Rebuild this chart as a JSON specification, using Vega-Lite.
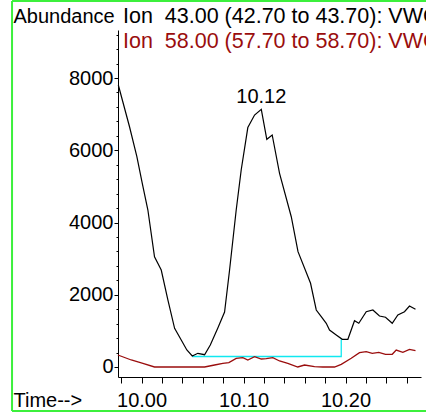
{
  "$schema": "https://vega.github.io/schema/vega-lite/v6.json",
  "width": 303,
  "height": 347,
  "autosize": {"type": "none"},
  "padding": {"left": 118, "top": 30, "right": 5, "bottom": 36},
  "background": "white",
  "config": {
    "view": {"stroke": null},
    "font": "Liberation Sans",
    "axis": {"labelFont": "Liberation Sans", "titleFont": "Liberation Sans", "domainColor": "black", "tickColor": "black", "labelColor": "black", "titleColor": "black", "grid": false}
  },
  "title": {
    "text": "Ion \u00a043.00 (42.70 to 43.70): VWC1.D\\data.ms",
    "subtitle": "Ion \u00a058.00 (57.70 to 58.70): VWC1.D\\data.ms",
    "anchor": "start",
    "frame": "group",
    "orient": "top",
    "offset": -52,
    "dx": 5,
    "font": "Liberation Sans",
    "fontSize": 21.5,
    "fontWeight": "normal",
    "color": "black",
    "subtitleFont": "Liberation Sans",
    "subtitleFontSize": 21.5,
    "subtitleColor": "#9a0d0d",
    "subtitlePadding": 3.5
  },
  "resolve": {"axis": {"x": "independent", "y": "independent"}},
  "datasets": {
    "ion43": [
      {"t": 9.9772, "v": 7806}, {"t": 9.9882, "v": 6651}, {"t": 9.9954, "v": 5821}, {"t": 10.0007, "v": 5085},
      {"t": 10.0062, "v": 4346}, {"t": 10.0127, "v": 3053}, {"t": 10.0193, "v": 2685}, {"t": 10.0258, "v": 1855},
      {"t": 10.0324, "v": 1071}, {"t": 10.0389, "v": 747}, {"t": 10.0444, "v": 470}, {"t": 10.0497, "v": 304},
      {"t": 10.0552, "v": 379}, {"t": 10.0618, "v": 340}, {"t": 10.0674, "v": 609}, {"t": 10.0748, "v": 1080},
      {"t": 10.0814, "v": 1522}, {"t": 10.0863, "v": 2685}, {"t": 10.0928, "v": 4346}, {"t": 10.0977, "v": 5453},
      {"t": 10.1042, "v": 6629}, {"t": 10.1108, "v": 6975}, {"t": 10.1174, "v": 7133}, {"t": 10.1228, "v": 6303},
      {"t": 10.1281, "v": 6422}, {"t": 10.1353, "v": 5362}, {"t": 10.1468, "v": 4160}, {"t": 10.1534, "v": 3192},
      {"t": 10.1657, "v": 2317}, {"t": 10.1713, "v": 1578}, {"t": 10.1762, "v": 1392}, {"t": 10.1811, "v": 1210},
      {"t": 10.1843, "v": 1024}, {"t": 10.1909, "v": 886}, {"t": 10.1968, "v": 767}, {"t": 10.2023, "v": 767},
      {"t": 10.2088, "v": 1282}, {"t": 10.213, "v": 1210}, {"t": 10.2203, "v": 1531}, {"t": 10.2268, "v": 1578},
      {"t": 10.2333, "v": 1412}, {"t": 10.2392, "v": 1376}, {"t": 10.2458, "v": 1210}, {"t": 10.2513, "v": 1439},
      {"t": 10.2578, "v": 1531}, {"t": 10.2627, "v": 1688}, {"t": 10.2686, "v": 1597}
    ],
    "ion58": [
      {"t": 9.9768, "v": 332}, {"t": 9.9899, "v": 194}, {"t": 10.0013, "v": 102}, {"t": 10.0127, "v": 0},
      {"t": 10.0618, "v": 0}, {"t": 10.0716, "v": 55}, {"t": 10.0797, "v": 102}, {"t": 10.0856, "v": 120},
      {"t": 10.0928, "v": 240}, {"t": 10.0993, "v": 258}, {"t": 10.1042, "v": 194}, {"t": 10.1108, "v": 286},
      {"t": 10.1174, "v": 221}, {"t": 10.1223, "v": 230}, {"t": 10.1287, "v": 258}, {"t": 10.1353, "v": 166},
      {"t": 10.1434, "v": 102}, {"t": 10.1532, "v": 0}, {"t": 10.1598, "v": 55}, {"t": 10.1696, "v": 9},
      {"t": 10.1777, "v": 0}, {"t": 10.1892, "v": 0}, {"t": 10.1958, "v": 74}, {"t": 10.2056, "v": 240},
      {"t": 10.2137, "v": 397}, {"t": 10.2203, "v": 424}, {"t": 10.2262, "v": 378}, {"t": 10.2326, "v": 406},
      {"t": 10.2392, "v": 351}, {"t": 10.2458, "v": 351}, {"t": 10.2497, "v": 470}, {"t": 10.2562, "v": 406},
      {"t": 10.2627, "v": 489}, {"t": 10.2686, "v": 451}
    ],
    "baseline": [
      {"i": 0, "t": 10.0497, "v": 290}, {"i": 1, "t": 10.1958, "v": 290}, {"i": 2, "t": 10.1958, "v": 767}
    ],
    "frame": [
      {"edge": "frame"}
    ]
  },
  "layer": [
    {
      "data": {"name": "frame"},
      "mark": {"type": "rule", "color": "#3cf03c", "strokeWidth": 2, "clip": false},
      "encoding": {
        "x": {"datum": 9.873, "type": "quantitative", "scale": {"domain": [9.9769, 10.274], "nice": false, "zero": false},
              "axis": {"orient": "top", "domain": false, "ticks": false, "labels": false, "title": null, "grid": false}},
        "y": {"datum": 10131, "type": "quantitative", "scale": {"domain": [-277, 9329], "nice": false, "zero": false},
              "axis": {"orient": "right", "domain": false, "ticks": false, "labels": false, "title": null, "grid": false}},
        "y2": {"datum": -1218}
      }
    },
    {
      "data": {"name": "frame"},
      "mark": {"type": "rule", "color": "#3cf03c", "strokeWidth": 2, "clip": false},
      "encoding": {
        "x": {"datum": 9.873, "type": "quantitative", "scale": {"domain": [9.9769, 10.274], "nice": false, "zero": false},
              "axis": {"orient": "top", "domain": false, "ticks": false, "labels": false, "title": null, "grid": false}},
        "x2": {"datum": 10.4},
        "y": {"datum": 10131, "type": "quantitative", "scale": {"domain": [-277, 9329], "nice": false, "zero": false},
              "axis": {"orient": "right", "domain": false, "ticks": false, "labels": false, "title": null, "grid": false}}
      }
    },
    {
      "data": {"name": "frame"},
      "mark": {"type": "rule", "color": "#3cf03c", "strokeWidth": 2, "clip": false},
      "encoding": {
        "x": {"datum": 9.873, "type": "quantitative", "scale": {"domain": [9.9769, 10.274], "nice": false, "zero": false},
              "axis": {"orient": "top", "domain": false, "ticks": false, "labels": false, "title": null, "grid": false}},
        "x2": {"datum": 10.4},
        "y": {"datum": -1218, "type": "quantitative", "scale": {"domain": [-277, 9329], "nice": false, "zero": false},
              "axis": {"orient": "right", "domain": false, "ticks": false, "labels": false, "title": null, "grid": false}}
      }
    },
    {
      "encoding": {
        "x": {
          "field": "t", "type": "quantitative",
          "scale": {"domain": [9.9769, 10.274], "nice": false, "zero": false},
          "axis": {
            "orient": "bottom",
            "title": "Time-->",
            "titleFontSize": 20, "titleFontWeight": "normal",
            "titleAlign": "left", "titleBaseline": "alphabetic", "titleAnchor": "start",
            "titleX": -105, "titleY": 29,
            "values": [9.98, 10.0, 10.02, 10.04, 10.06, 10.08, 10.1, 10.12, 10.14, 10.16, 10.18, 10.2, 10.22, 10.24, 10.26],
            "labelExpr": "abs(datum.value * 10 - round(datum.value * 10)) < 0.001 ? format(datum.value, '.2f') : ''",
            "labelFontSize": 20, "labelPadding": 7, "labelOverlap": false, "labelFlush": false,
            "tickSize": 6, "tickWidth": 1, "domainWidth": 1
          }
        },
        "y": {
          "field": "v", "type": "quantitative",
          "scale": {"domain": [-277, 9329], "nice": false, "zero": false},
          "axis": {
            "orient": "left",
            "title": "Abundance",
            "titleFontSize": 20, "titleFontWeight": "normal", "titleAngle": 0,
            "titleAlign": "left", "titleBaseline": "alphabetic", "titleAnchor": "start",
            "titleX": -105, "titleY": -8,
            "values": [0, 400, 800, 1200, 1600, 2000, 2400, 2800, 3200, 3600, 4000, 4400, 4800, 5200, 5600, 6000, 6400, 6800, 7200, 7600, 8000, 8400, 8800, 9200],
            "labelExpr": "datum.value % 2000 === 0 ? format(datum.value, 'd') : ''",
            "labelFontSize": 20, "labelPadding": 1, "labelOverlap": false, "labelFlush": false,
            "tickSize": {"condition": {"test": "datum.value % 2000 === 0", "value": 4}, "value": 2},
            "tickWidth": 1, "domainWidth": 1
          }
        }
      },
      "layer": [
        {
          "data": {"name": "baseline"},
          "mark": {"type": "line", "color": "#10e8f0", "strokeWidth": 1.3},
          "encoding": {"order": {"field": "i", "type": "quantitative"}}
        },
        {
          "data": {"name": "ion58"},
          "mark": {"type": "line", "color": "#9a0d0d", "strokeWidth": 1.3}
        },
        {
          "data": {"name": "ion43"},
          "mark": {"type": "line", "color": "black", "strokeWidth": 1.2}
        },
        {
          "data": {"name": "ion43"},
          "transform": [{"filter": "datum.t === 10.1174"}],
          "mark": {"type": "text", "fontSize": 20, "font": "Liberation Sans", "baseline": "alphabetic", "align": "center", "dy": -6, "color": "black"},
          "encoding": {"text": {"field": "t", "type": "quantitative", "format": ".2f"}}
        }
      ]
    }
  ]
}
